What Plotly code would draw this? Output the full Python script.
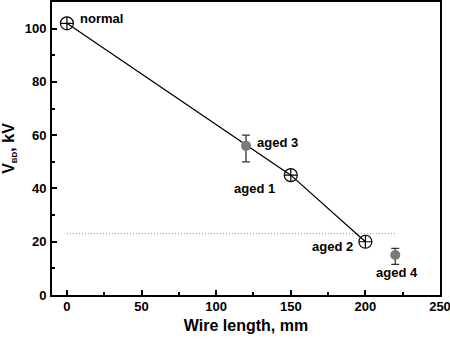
import plotly.graph_objects as go

# Breakdown voltage vs. wire length
line_x = [0, 150, 200]
line_y = [102, 45, 20]
line_names = ["normal", "aged 1", "aged 2"]

aged_x = [120, 220]
aged_y = [56, 15]
aged_err_plus = [4, 2.5]
aged_err_minus = [6, 3.5]
aged_names = ["aged 3", "aged 4"]

threshold_x = [0, 220]
threshold_y = [23, 23]

x_ticks = [0, 50, 100, 150, 200, 250]
y_ticks = [0, 20, 40, 60, 80, 100]

font_family = "Arial, Liberation Sans, sans-serif"

fig = go.Figure()

fig.add_trace(go.Scatter(
    x=threshold_x, y=threshold_y, mode="lines",
    line=dict(color="#8a8a8a", width=1, dash="1px,2px"),
    showlegend=False, hoverinfo="skip"))

fig.add_trace(go.Scatter(
    x=line_x, y=line_y, mode="lines+markers",
    line=dict(color="black", width=1.3),
    marker=dict(symbol="circle-cross-open", size=13, color="black",
                line=dict(width=1.2, color="black")),
    showlegend=False))

fig.add_trace(go.Scatter(
    x=aged_x, y=aged_y, mode="markers",
    marker=dict(symbol="circle", size=10, color="#7a7a7a"),
    error_y=dict(type="data", symmetric=False, array=aged_err_plus,
                 arrayminus=aged_err_minus, color="#333333",
                 thickness=1.3, width=4),
    showlegend=False))

label_style = dict(family=font_family, size=13, color="black")
# (x, y, text, xshift, yshift, xanchor)
labels = [
    (line_x[0], line_y[0], line_names[0], 11, 5, "left"),
    (line_x[1], line_y[1], line_names[1], -36, -13, "center"),
    (line_x[2], line_y[2], line_names[2], -33, -5, "center"),
    (aged_x[0], aged_y[0], aged_names[0], 9, 3, "left"),
    (aged_x[1], aged_y[1], aged_names[1], 2, -17, "center"),
]
for x, y, txt, sx, sy, xa in labels:
    fig.add_annotation(x=x, y=y, text="<b>%s</b>" % txt, showarrow=False,
                       xanchor=xa, yanchor="middle", xshift=sx, yshift=sy,
                       font=label_style)

axis_common = dict(
    showline=True, linecolor="black", linewidth=2, mirror=True,
    ticks="inside", ticklen=5, tickwidth=1.5, tickcolor="black",
    showgrid=False, zeroline=False, ticklabeloverflow="allow", automargin=False,
    tickfont=dict(family=font_family, size=13, color="black", weight="bold"),
)

fig.update_xaxes(
    range=[-10, 250.001], tickvals=x_ticks, ticklabelstandoff=-2,
    minor=dict(ticks="inside", ticklen=3, tickcolor="black", dtick=25, tick0=0, showgrid=False),
    title=dict(text="<b>Wire length, mm</b>", standoff=7,
               font=dict(family=font_family, size=16, color="black")),
    **axis_common)

fig.update_yaxes(
    range=[0, 110], tickvals=y_ticks, ticklabelstandoff=1,
    minor=dict(ticks="inside", ticklen=3, tickcolor="black", dtick=10, tick0=0, showgrid=False),
    title=dict(text="<b>V<sub><span style='font-size:8px'>BD</span></sub>, kV</b>", standoff=13,
               font=dict(family=font_family, size=16, color="black")),
    **axis_common)

fig.update_layout(
    width=450, height=342,
    margin=dict(l=52, r=10, t=2, b=47),
    plot_bgcolor="white", paper_bgcolor="white",
)

fig.write_html("out.html")
